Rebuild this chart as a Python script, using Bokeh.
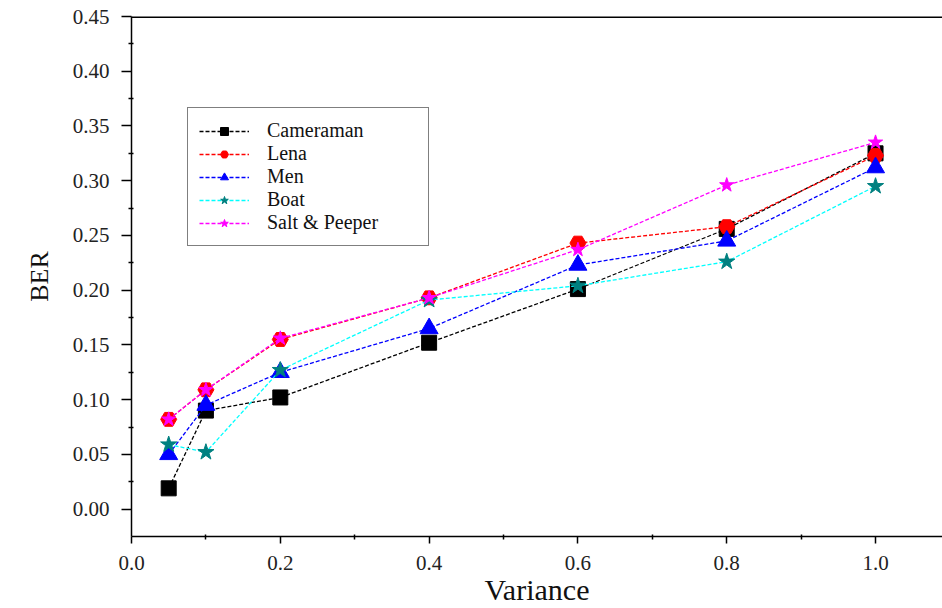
from bokeh.plotting import figure
from bokeh.models import Range1d, Legend, LegendItem, Span, FixedTicker, CustomJSTickFormatter
from bokeh.embed import file_html
from bokeh.resources import INLINE

variance = [0.05, 0.1, 0.2, 0.4, 0.6, 0.8, 1.0]
cameraman = [0.019, 0.090, 0.102, 0.152, 0.201, 0.256, 0.325]
lena = [0.082, 0.109, 0.155, 0.193, 0.243, 0.258, 0.323]
men = [0.050, 0.095, 0.125, 0.165, 0.223, 0.245, 0.312]
boat = [0.059, 0.052, 0.127, 0.191, 0.204, 0.226, 0.295]
salt = [0.082, 0.109, 0.156, 0.193, 0.237, 0.296, 0.335]

x_ticks = [0.0, 0.2, 0.4, 0.6, 0.8, 1.0]
y_ticks = [0.00, 0.05, 0.10, 0.15, 0.20, 0.25, 0.30, 0.35, 0.40, 0.45]

FONT = "Liberation Serif"

p = figure(width=942, height=608, output_backend="svg", toolbar_location=None,
           x_range=Range1d(0.0, 1.09), y_range=Range1d(-0.025, 0.45),
           min_border_left=131, min_border_right=0, min_border_top=16, min_border_bottom=71)
p.outline_line_color = None
p.grid.visible = False
p.background_fill_color = "white"

series = [
    ("Cameraman", cameraman, "black", "square", "black", 15),
    ("Lena", lena, "red", "hex", "red", 16),
    ("Men", men, "blue", "triangle", "blue", 18),
    ("Boat", boat, "cyan", "star", "#008080", 17),
    ("Salt & Peeper", salt, "magenta", "star", "magenta", 15),
]

items = []
for name, ys, lc, mk, mc, sz in series:
    r1 = p.line(variance, ys, line_color=lc, line_width=1.3, line_dash="4 2")
    r2 = p.scatter(variance, ys, marker=mk, size=sz, fill_color=mc, line_color=mc)
    items.append(LegendItem(label=name, renderers=[r1, r2]))

top = Span(location=0.45, dimension="width", line_color="black", line_width=3)
p.add_layout(top)

for ax in (p.xaxis[0], p.yaxis[0]):
    ax.axis_line_width = 1.5
    ax.major_tick_line_width = 1.5
    ax.minor_tick_line_width = 1.5
    ax.major_label_text_font = FONT
    ax.major_label_text_font_size = "21px"
    ax.major_label_text_color = "#222222"
    ax.axis_label_text_font = FONT
    ax.axis_label_text_font_style = "normal"
    ax.axis_label_text_color = "#111111"
    ax.major_tick_in = 0
    ax.minor_tick_in = 2
    ax.minor_tick_out = 3

p.xaxis.ticker = FixedTicker(ticks=x_ticks, minor_ticks=[0.1, 0.3, 0.5, 0.7, 0.9])
p.yaxis.ticker = FixedTicker(ticks=y_ticks, minor_ticks=[0.025, 0.075, 0.125, 0.175, 0.225, 0.275, 0.325, 0.375, 0.425])
p.xaxis.major_tick_out = 7
p.yaxis.major_tick_out = 10
p.xaxis.major_label_standoff = 12
p.yaxis.major_label_standoff = 12
p.xaxis.formatter = CustomJSTickFormatter(code="return tick.toFixed(1);")
p.yaxis.formatter = CustomJSTickFormatter(code="return tick.toFixed(2);")

p.xaxis.axis_label = "Variance"
p.xaxis.axis_label_text_font_size = "30px"
p.xaxis.axis_label_standoff = 0
p.yaxis.axis_label = "BER"
p.yaxis.axis_label_text_font_size = "26px"
p.yaxis.axis_label_standoff = 16

legend = Legend(items=items, location=(56, 290))
legend.label_text_font = FONT
legend.label_text_font_size = "20px"
legend.label_text_color = "#111111"
legend.border_line_color = "black"
legend.border_line_width = 1
legend.glyph_width = 50
legend.glyph_height = 20
legend.label_height = 20
legend.label_width = 150
legend.spacing = 0
legend.label_standoff = 18
legend.padding = 11
legend.margin = 0
legend.background_fill_alpha = 1
p.add_layout(legend, "center")

open("out.html", "w").write(file_html(p, INLINE))
